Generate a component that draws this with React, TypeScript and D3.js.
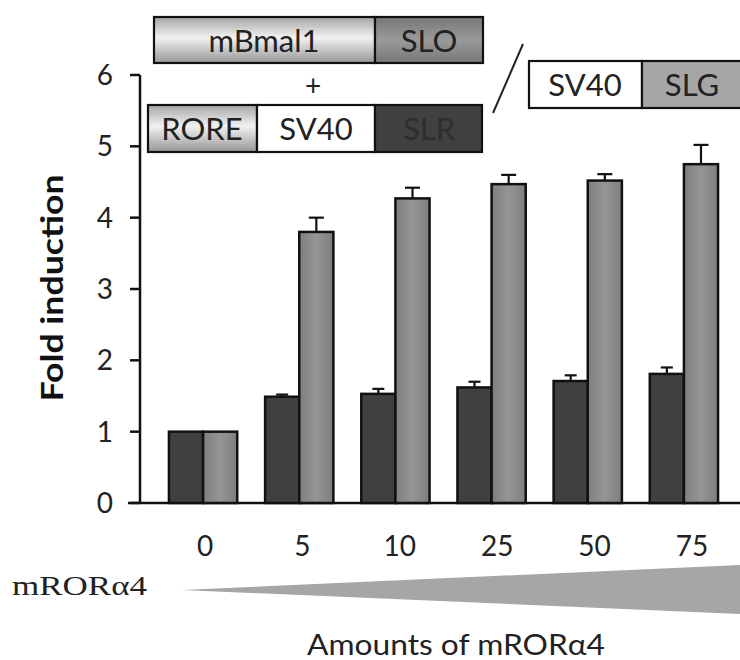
import React from "react";
import * as d3 from "d3";

const categories = ["0", "5", "10", "25", "50", "75"];
const slrValues = [1.0, 1.49, 1.53, 1.62, 1.71, 1.81];
const slrErrors = [0, 0.03, 0.07, 0.08, 0.08, 0.09];
const slgValues = [1.0, 3.8, 4.27, 4.47, 4.52, 4.75];
const slgErrors = [0, 0.2, 0.15, 0.13, 0.09, 0.27];
const yTicks = [0, 1, 2, 3, 4, 5, 6];

const construct1 = ["mBmal1", "SLO"];
const construct2 = ["RORE", "SV40", "SLR"];
const construct3 = ["SV40", "SLG"];

const W = 740;
const H = 660;
const SANS = "Lato, 'Open Sans', sans-serif";

export default function App() {
  const y = d3.scaleLinear().domain([0, 6]).range([503, 75]);
  const x = d3.scaleBand<string>().domain(categories).range([155, 732]).paddingInner(0.29).paddingOuter(0.145);
  const xLabel = d3.scalePoint<string>().domain(categories).range([205, 692]);
  const bw = x.bandwidth() / 2;

  const boxStroke = "#111";
  const BF = 31;
  const bar = (cx: number, v: number, e: number, fill: string, capW: number, key: string) => {
    const top = y(v);
    return (
      <g key={key}>
        {e > 0 && (
          <g stroke="#111" strokeWidth={2.2}>
            <line x1={cx + bw / 2} x2={cx + bw / 2} y1={top} y2={y(v + e)} />
            <line x1={cx + bw / 2 - capW / 2} x2={cx + bw / 2 + capW / 2} y1={y(v + e)} y2={y(v + e)} />
          </g>
        )}
        <rect x={cx} y={top} width={bw} height={y(0) - top} fill={fill} stroke="#111" strokeWidth={2.5} />
      </g>
    );
  };

  return (
    <svg width={W} height={H} style={{ position: "absolute", left: 0, top: 0, background: "#fff" }}>
      <defs>
        <linearGradient id="lightBar" x1="0" x2="1" y1="0" y2="0">
          <stop offset="0" stopColor="#7e7e7e" />
          <stop offset="0.5" stopColor="#959595" />
          <stop offset="1" stopColor="#7e7e7e" />
        </linearGradient>
        <linearGradient id="cyl" x1="0" x2="0" y1="0" y2="1">
          <stop offset="0" stopColor="#a4a4a4" />
          <stop offset="0.45" stopColor="#f2f2f2" />
          <stop offset="1" stopColor="#969696" />
        </linearGradient>
        <linearGradient id="slo" x1="0" x2="0" y1="0" y2="1">
          <stop offset="0" stopColor="#777" />
          <stop offset="0.5" stopColor="#9a9a9a" />
          <stop offset="1" stopColor="#777" />
        </linearGradient>
      </defs>

      {/* axes */}
      <g stroke="#111" strokeWidth={2.5}>
        <line x1={140} x2={140} y1={y(6)} y2={y(0)} />
        <line x1={128} x2={W} y1={y(0)} y2={y(0)} />
        {yTicks.map((t) => (
          <line key={t} x1={130} x2={140} y1={y(t)} y2={y(t)} />
        ))}
      </g>
      {yTicks.map((t) => (
        <text key={t} x={113} y={y(t)} dy="0.36em" textAnchor="end" fontFamily={SANS} fontSize={28} fill="#222">
          {t}
        </text>
      ))}
      <text
        transform={`translate(63,288) rotate(-90)`}
        textAnchor="middle"
        fontFamily={SANS}
        fontWeight="bold"
        fontSize={30}
        textLength={227}
        lengthAdjust="spacingAndGlyphs"
        fill="#111"
      >
        Fold induction
      </text>

      {/* bars */}
      {categories.map((c, i) => {
        const x0 = x(c)!;
        return (
          <g key={c}>
            {bar(x0, slrValues[i], slrErrors[i], "#404040", 12, "d")}
            {bar(x0 + bw, slgValues[i], slgErrors[i], "url(#lightBar)", 15, "l")}
          </g>
        );
      })}

      {/* x labels */}
      {categories.map((c) => (
        <text key={c} x={xLabel(c)} y={556} textAnchor="middle" fontFamily={SANS} fontSize={28} fill="#222">
          {c}
        </text>
      ))}

      {/* wedge */}
      <polygon points={`182,590 ${W},565 ${W},614`} fill="#a6a6a6" />
      <text x={12} y={595} fontFamily="'Liberation Serif', 'Times New Roman', serif" fontSize={27} textLength={135} lengthAdjust="spacingAndGlyphs" fill="#222">
        mRORα4
      </text>
      <text x={456} y={655} textAnchor="middle" fontFamily={SANS} fontSize={28} textLength={298} lengthAdjust="spacingAndGlyphs" fill="#222">
        Amounts of mRORα4
      </text>

      {/* construct 1 */}
      <g stroke={boxStroke} strokeWidth={2.2}>
        <rect x={154} y={17} width={221} height={46} fill="url(#cyl)" />
        <rect x={375} y={17} width={108} height={46} fill="url(#slo)" />
      </g>
      <text x={264} y={41} dy="0.36em" textAnchor="middle" fontFamily={SANS} fontSize={BF} fill="#222">{construct1[0]}</text>
      <text x={429} y={41} dy="0.36em" textAnchor="middle" fontFamily={SANS} fontSize={BF} fill="#222">{construct1[1]}</text>
      <text x={313} y={86} dy="0.36em" textAnchor="middle" fontFamily={SANS} fontSize={28} fill="#222">+</text>

      {/* construct 2 */}
      <g stroke={boxStroke} strokeWidth={2.2}>
        <rect x={148} y={105} width={109} height={47} fill="url(#cyl)" />
        <rect x={257} y={105} width={118} height={47} fill="#fff" />
        <rect x={375} y={105} width={107} height={47} fill="#404040" />
      </g>
      <text x={202} y={129} dy="0.36em" textAnchor="middle" fontFamily={SANS} fontSize={BF} fill="#222">{construct2[0]}</text>
      <text x={316} y={129} dy="0.36em" textAnchor="middle" fontFamily={SANS} fontSize={BF} fill="#222">{construct2[1]}</text>
      <text x={429} y={129} dy="0.36em" textAnchor="middle" fontFamily={SANS} fontSize={BF} fill="#2e2e2e">{construct2[2]}</text>

      {/* slash */}
      <line x1={523} y1={44} x2={493} y2={113} stroke="#222" strokeWidth={2} />

      {/* construct 3 */}
      <g stroke={boxStroke} strokeWidth={2.2}>
        <rect x={529} y={61} width={113} height={47} fill="#fff" />
        <rect x={642} y={61} width={110} height={47} fill="#a6a6a6" />
      </g>
      <text x={585} y={85} dy="0.36em" textAnchor="middle" fontFamily={SANS} fontSize={BF} fill="#222">{construct3[0]}</text>
      <text x={692} y={85} dy="0.36em" textAnchor="middle" fontFamily={SANS} fontSize={BF} fill="#222">{construct3[1]}</text>
    </svg>
  );
}
